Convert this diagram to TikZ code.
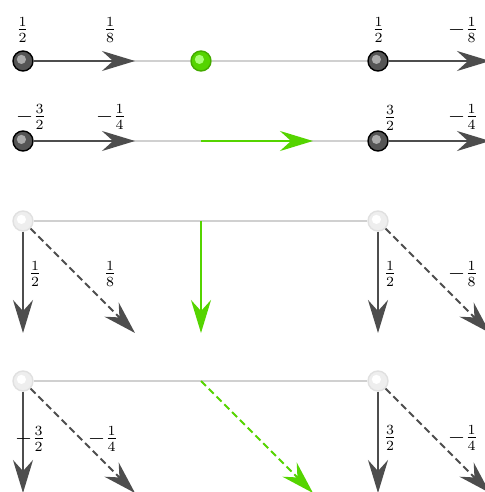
\documentclass[tikz,border=0pt]{standalone}
\usetikzlibrary{arrows.meta}
\definecolor{vecgray}{HTML}{4D4D4D}
\definecolor{linegray}{HTML}{D0D0D0}
\definecolor{vgreen}{HTML}{55D400}
\definecolor{vgreendark}{HTML}{44AA00}
\definecolor{vgreenhi}{HTML}{AAFF77}
\definecolor{ballgray}{HTML}{555555}
\definecolor{ballhi}{HTML}{AAAAAA}
\definecolor{lightball}{HTML}{EEEEEE}
\definecolor{lightballedge}{HTML}{E0E0E0}
\begin{document}
\begin{tikzpicture}[x=0.5pt,y=-0.5pt,
  font=\fontsize{10.5}{12}\selectfont,
  vec/.style={draw=vecgray, line width=1pt, -{Stealth[length=16.5pt,width=10pt,inset=5.5pt]}},
  dvec/.style={vec, dash pattern=on 3.5pt off 2pt},
  gvec/.style={vec, draw=vgreen, -{Stealth[length=16.5pt,width=10pt,inset=5.5pt,fill=vgreen]}},
  gdvec/.style={gvec, dash pattern=on 3.5pt off 2pt},
  base/.style={draw=linegray, line width=1pt},
  ballbase/.style={circle, inner sep=0pt, minimum size=10pt, line width=0.7pt},
  darkball/.style={ballbase, draw=black, fill=ballgray,
    path picture={\fill[ballhi] ([shift={(-0.8pt,0.8pt)}]path picture bounding box.center) circle (2.3pt);}},
  greenball/.style={ballbase, draw=vgreendark, fill=vgreen,
    path picture={\fill[vgreenhi] ([shift={(-0.8pt,0.8pt)}]path picture bounding box.center) circle (2.3pt);}},
  lightballst/.style={ballbase, draw=lightballedge, fill=lightball,
    path picture={\fill[white] ([shift={(-0.8pt,0.8pt)}]path picture bounding box.center) circle (2.3pt);}},
  lab/.style={inner sep=0pt}
]
\useasboundingbox (0,0) rectangle (484,492);

% Row 1
\node[darkball] (a1) at (23,61) {};
\node[greenball] (g1) at (201,61) {};
\node[darkball] (b1) at (378,61) {};
\coordinate (a1e) at (135,61);
\coordinate (b1e) at (490,61);
\draw[base] (a1) -- (g1);
\draw[base] (g1) -- (b1);
\draw[vec] (a1) -- (a1e);
\draw[vec] (b1) -- (b1e);
\node[lab] (l11) at (22.5,30) {$\frac{1}{2}$};
\node[lab] (l12) at (110,30) {$\frac{1}{8}$};
\node[lab] (l13) at (378.5,30) {$\frac{1}{2}$};
\node[lab] (l14) at (463,30) {$-\frac{1}{8}$};

% Row 2
\node[darkball] (a2) at (23,141) {};
\node[darkball] (b2) at (378,141) {};
\coordinate (g2s) at (201,141);
\coordinate (g2e) at (313,141);
\coordinate (a2e) at (135,141);
\coordinate (b2e) at (490,141);
\draw[base] (a2) -- (b2);
\draw[gvec] (g2s) -- (g2e);
\draw[vec] (a2) -- (a2e);
\draw[vec] (b2) -- (b2e);
\node[lab] (l21) at (31,117) {$-\frac{3}{2}$};
\node[lab] (l22) at (111,117) {$-\frac{1}{4}$};
\node[lab] (l23) at (390,118) {$\frac{3}{2}$};
\node[lab] (l24) at (463,117) {$-\frac{1}{4}$};

% Row 3
\node[lightballst] (c1) at (23,221) {};
\node[lightballst] (d1) at (378,221) {};
\coordinate (g3s) at (201,221);
\coordinate (g3e) at (201,333);
\coordinate (c1d) at (23,333);
\coordinate (c1x) at (135,333);
\coordinate (d1d) at (378,333);
\coordinate (d1x) at (490,333);
\draw[base] (c1) -- (d1);
\draw[gvec] (g3s) -- (g3e);
\draw[vec] (c1) -- (c1d);
\draw[dvec] (c1) -- (c1x);
\draw[vec] (d1) -- (d1d);
\draw[dvec] (d1) -- (d1x);
\node[lab] (l31) at (35,274) {$\frac{1}{2}$};
\node[lab] (l32) at (110,274) {$\frac{1}{8}$};
\node[lab] (l33) at (390,274) {$\frac{1}{2}$};
\node[lab] (l34) at (463,274) {$-\frac{1}{8}$};

% Row 4
\node[lightballst] (c2) at (23,381) {};
\node[lightballst] (d2) at (378,381) {};
\coordinate (g4s) at (201,381);
\coordinate (g4e) at (313,493);
\coordinate (c2d) at (23,493);
\coordinate (c2x) at (135,493);
\coordinate (d2d) at (378,493);
\coordinate (d2x) at (490,493);
\draw[base] (c2) -- (d2);
\draw[gdvec] (g4s) -- (g4e);
\draw[vec] (c2) -- (c2d);
\draw[dvec] (c2) -- (c2x);
\draw[vec] (d2) -- (d2d);
\draw[dvec] (d2) -- (d2x);
\node[lab] (l41) at (30,439) {$-\frac{3}{2}$};
\node[lab] (l42) at (103,439) {$-\frac{1}{4}$};
\node[lab] (l43) at (390,438) {$\frac{3}{2}$};
\node[lab] (l44) at (463,438) {$-\frac{1}{4}$};
\end{tikzpicture}
\end{document}
